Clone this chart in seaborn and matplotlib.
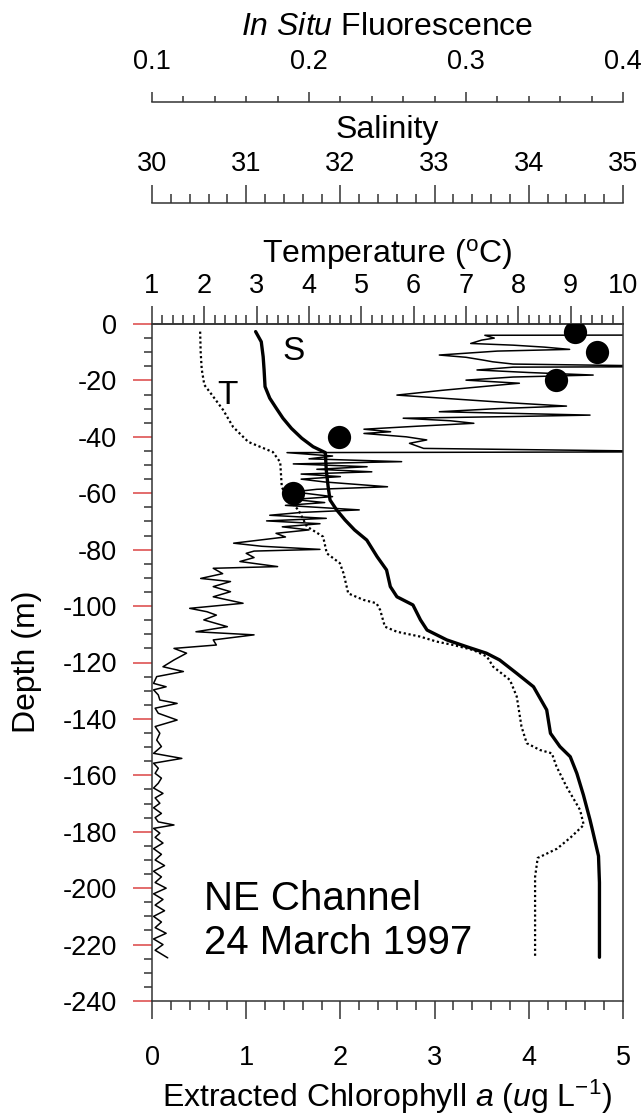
import matplotlib
matplotlib.use('Agg')
import matplotlib.pyplot as plt
from matplotlib.ticker import MultipleLocator
import seaborn as sns

# Extracted chlorophyll a (bottle samples), ug/L
chl_depth = [-3, -10, -20, -40, -60]
chl_value = [4.49, 4.72, 4.29, 1.98, 1.50]

# Salinity profile
sal_depth = [-2.7, -6.3, -11.6, -16.3, -22.2, -26.3, -29.9, -33.4, -37.0, -40.5, -43.5, -45.6,
             -51.8, -57.7, -62.4, -65.9, -69.5, -73.0, -76.6, -82.5, -87.2, -93.1, -96.7, -99.6,
             -104.9, -108.5, -112.0, -114.4, -116.7, -119.1, -123.8, -128.6, -136.8, -145.1,
             -149.8, -153.4, -159.3, -167.0, -175.8, -180.0, -188.6, -198.0, -210.0, -224.5]
sal_value = [31.10, 31.16, 31.18, 31.19, 31.20, 31.25, 31.32, 31.39, 31.48, 31.59, 31.71, 31.84,
             31.85, 31.87, 31.89, 31.96, 32.05, 32.15, 32.28, 32.39, 32.49, 32.53, 32.60, 32.77,
             32.85, 32.92, 33.13, 33.34, 33.55, 33.69, 33.87, 34.05, 34.19, 34.23,
             34.33, 34.44, 34.51, 34.58, 34.65, 34.68, 34.74, 34.75, 34.75, 34.75]

# Temperature profile (deg C)
temp_depth = [-2.7, -10.0, -16.0, -21.6, -24.0, -30.5, -36.5, -41.8, -45.4, -49.0, -57.8, -62.0,
              -66.0, -71.8, -75.4, -81.3, -84.8, -88.4, -95.5, -97.8, -99.0, -101.4, -107.3,
              -109.1, -110.8, -112.6, -113.8, -115.6, -117.9, -121.5, -126.2, -132.1, -142.7,
              -148.6, -151.0, -152.2, -156.9, -164.0, -172.3, -177.6, -182.0, -186.0, -189.3,
              -196.0, -210.0, -224.5]
temp_value = [1.92, 1.93, 1.95, 2.00, 2.10, 2.36, 2.55, 2.84, 3.31, 3.45, 3.48, 3.60,
              3.80, 3.96, 4.27, 4.34, 4.59, 4.66, 4.75, 5.04, 5.29, 5.36, 5.45,
              5.68, 6.12, 6.44, 6.76, 7.14, 7.40, 7.52, 7.84, 7.97, 8.06,
              8.16, 8.41, 8.64, 8.73, 8.92, 9.18, 9.25, 9.00, 8.74, 8.37,
              8.32, 8.32, 8.32]

# In situ fluorescence profile
fl_depth = [-3.0, -3.9, -4.0, -5.0, -5.7, -6.9, -7.5, -8.2, -9.0, -9.6, -11.0, -11.8, -12.8,
            -13.4, -14.2, -15.1, -15.3, -16.3, -17.2, -18.1, -18.8, -19.9, -21.0, -21.6, -23.5,
            -25.2, -26.5, -28.0, -29.1, -30.0, -31.1, -32.3, -32.8, -33.4, -34.3, -35.2, -36.2,
            -37.3, -38.2, -38.8, -40.0, -41.1, -42.3, -44.1, -45.3, -45.6, -46.8, -47.8, -48.8,
            -49.6, -50.6, -51.5, -52.4, -53.2, -54.1, -55.0, -56.0, -57.7, -58.6, -59.5, -60.5,
            -61.2, -62.2, -63.3, -64.3, -65.9, -66.8, -67.8, -68.9, -69.8, -70.8, -71.9, -73.0,
            -74.2, -75.5, -77.7, -78.8, -79.9, -80.5, -81.3, -82.8, -84.2, -86.0, -86.6, -88.5,
            -90.2, -91.3, -93.1, -94.9, -96.7, -99.0, -100.8, -102.0, -103.2, -104.9, -107.3,
            -109.1, -110.2, -112.0, -113.8, -115.0, -116.7, -119.1, -121.5, -123.2, -125.0,
            -127.4, -128.6, -129.7, -131.5, -133.3, -134.5, -136.2, -138.0, -140.4, -142.7,
            -145.1, -147.5, -149.8, -152.2, -154.0, -155.7, -157.5, -159.3, -161.0, -162.8,
            -164.5, -166.4, -168.0, -169.9, -171.5, -173.5, -175.0, -176.5, -177.6, -178.8,
            -180.5, -182.0, -184.0, -186.0, -188.0, -190.0, -192.0, -194.0, -196.0, -198.0,
            -200.0, -202.0, -204.0, -206.0, -208.0, -210.0, -212.0, -214.0, -216.0, -218.0,
            -220.0, -222.0, -224.7]
fl_value = [0.45, 0.45, 0.312, 0.318, 0.310, 0.303, 0.330, 0.350, 0.366, 0.320, 0.283, 0.300, 0.311,
            0.317, 0.330, 0.45, 0.330, 0.307, 0.340, 0.381, 0.330, 0.300, 0.334, 0.322, 0.285,
            0.256, 0.290, 0.330, 0.364, 0.320, 0.283, 0.379, 0.330, 0.260, 0.290, 0.305, 0.270,
            0.235, 0.252, 0.235, 0.262, 0.275, 0.264, 0.273, 0.45, 0.186, 0.215, 0.200, 0.259,
            0.190, 0.237, 0.205, 0.240, 0.195, 0.220, 0.195, 0.210, 0.250, 0.205, 0.190, 0.205,
            0.215, 0.190, 0.210, 0.185, 0.232, 0.195, 0.175, 0.211, 0.173, 0.207, 0.183, 0.200,
            0.179, 0.185, 0.152, 0.170, 0.207, 0.165, 0.160, 0.165, 0.156, 0.180, 0.139, 0.145,
            0.131, 0.150, 0.139, 0.150, 0.139, 0.158, 0.124, 0.135, 0.141, 0.133, 0.148,
            0.128, 0.165, 0.139, 0.141, 0.114, 0.122, 0.114, 0.107, 0.120, 0.103,
            0.101, 0.109, 0.101, 0.104, 0.105, 0.116, 0.102, 0.104, 0.116, 0.102,
            0.105, 0.103, 0.106, 0.101, 0.119, 0.101, 0.104, 0.102, 0.106, 0.104,
            0.101, 0.107, 0.102, 0.105, 0.101, 0.106, 0.102, 0.104, 0.114, 0.101,
            0.105, 0.102, 0.107, 0.101, 0.106, 0.102, 0.108, 0.101, 0.106, 0.102,
            0.109, 0.101, 0.107, 0.102, 0.108, 0.101, 0.106, 0.102, 0.109, 0.101,
            0.107, 0.102, 0.110]

sns.set_style('ticks')
plt.rcParams['font.family'] = ['Liberation Sans', 'DejaVu Sans']
plt.rcParams['mathtext.fontset'] = 'custom'
plt.rcParams['mathtext.rm'] = 'Liberation Sans'
plt.rcParams['mathtext.it'] = 'Liberation Sans:italic'
plt.rcParams['axes.unicode_minus'] = False
plt.rcParams['text.color'] = 'black'
plt.rcParams['xtick.labelcolor'] = 'black'
plt.rcParams['ytick.labelcolor'] = 'black'

W, H = 643, 1116
fig = plt.figure(figsize=(W / 100, H / 100), dpi=100)
ax = fig.add_axes([152 / W, 1 - 1001 / H, 471 / W, 677 / H])
ax_t = ax.twiny()
ax_s = ax.twiny()
ax_f = ax.twiny()

spine_col = '#333333'

# profiles
sns.lineplot(x=fl_value, y=fl_depth, ax=ax_f, sort=False, orient='y', estimator=None,
             color='k', lw=1.1)
sns.lineplot(x=sal_value, y=sal_depth, ax=ax_s, sort=False, orient='y', estimator=None,
             color='k', lw=2.4)
sns.lineplot(x=temp_value, y=temp_depth, ax=ax_t, sort=False, orient='y', estimator=None,
             color='k', lw=1.6, linestyle=(0, (1, 1.2)))
sns.scatterplot(x=chl_value, y=chl_depth, ax=ax, s=280, color='k', linewidth=0, zorder=5)

ax.set_zorder(5)
ax.patch.set_visible(False)

ax.set_xlim(0, 5)
ax.set_ylim(-240, 0)
ax_t.set_xlim(1, 10)
ax_s.set_xlim(30, 35)
ax_f.set_xlim(0.1, 0.4)
for a in (ax_t, ax_s, ax_f):
    a.set_ylim(-240, 0)
    a.set_xlabel('')
    a.set_ylabel('')

for sp in ax.spines.values():
    sp.set_color(spine_col)
    sp.set_linewidth(1.1)
    sp.set_visible(True)

for a in (ax_t, ax_s, ax_f):
    for name, sp in a.spines.items():
        sp.set_visible(name == 'top')
        sp.set_color(spine_col)
        sp.set_linewidth(1.1)
ax_s.spines['top'].set_position(('outward', 87))
ax_f.spines['top'].set_position(('outward', 160))

# bottom axis: chlorophyll, left axis: depth
ax.xaxis.set_major_locator(MultipleLocator(1))
ax.xaxis.set_minor_locator(MultipleLocator(0.2))
ax.yaxis.set_major_locator(MultipleLocator(20))
ax.yaxis.set_minor_locator(MultipleLocator(5))
ax.tick_params(top=False, right=False)
ax.tick_params(axis='x', which='major', direction='out', length=13, width=1.1,
               color=spine_col, pad=19, labelsize=19.5)
ax.tick_params(axis='x', which='minor', direction='out', length=6.5, width=1.1, color=spine_col)
ax.tick_params(axis='y', which='major', direction='out', length=14, width=1.3,
               color='#e06060', pad=11, labelsize=19.5)
ax.tick_params(axis='y', which='minor', direction='out', length=6, width=1.1, color=spine_col)

# top axes: temperature, salinity, fluorescence
for a, maj, mnr, ml, pad in ((ax_t, 1, 0.2, 13, 5), (ax_s, 1, 0.2, 13, 6), (ax_f, 0.1, 0.02, 7, 12)):
    a.xaxis.set_major_locator(MultipleLocator(maj))
    a.xaxis.set_minor_locator(MultipleLocator(mnr))
    a.tick_params(axis='x', which='major', direction='out', length=ml, width=1.1,
                  color=spine_col, pad=pad, labelsize=19.5)
    a.tick_params(axis='x', which='minor', direction='out', length=ml / 2 if a is not ax_f else 4.5,
                  width=1.1, color=spine_col)

ax.set_xlabel('')
ax.set_ylabel('')

cx = 387.5 / W
fig.text(cx, 1 - 35 / H, r'$\it{In\ Situ}$ Fluorescence', ha='center', va='baseline', fontsize=23)
fig.text(cx, 1 - 138 / H, 'Salinity', ha='center', va='baseline', fontsize=23)
fig.text(cx, 1 - 263 / H, r'Temperature ($^{\mathrm{o}}$C)', ha='center', va='baseline', fontsize=23)
fig.text(cx, 1 - 1107 / H, r'Extracted Chlorophyll $a$ ($u$g L$^{-1}$)', ha='center',
         va='baseline', fontsize=23)
fig.text(27 / W, 1 - 662 / H, 'Depth (m)', rotation=90, ha='center', va='center', fontsize=23)

ax.text(1.50, -9.8, 'S', ha='center', va='center', fontsize=24)
ax.text(0.80, -25.2, 'T', ha='center', va='center', fontsize=24)
ax.text(0.55, -223.3, 'NE Channel\n24 March 1997', ha='left', va='baseline', fontsize=29,
        linespacing=1.2)

fig.savefig('out.png', dpi=100)
